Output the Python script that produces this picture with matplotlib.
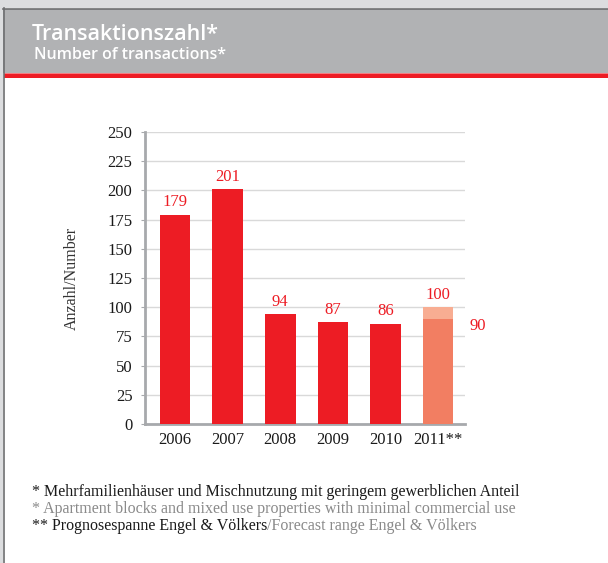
import matplotlib.pyplot as plt
import numpy as np

# chart data
years = ["2006", "2007", "2008", "2009", "2010", "2011**"]
transactions = [179, 201, 94, 87, 86, 90]
forecast_high = 100   # upper end of the 2011 forecast range
yticks = [0, 25, 50, 75, 100, 125, 150, 175, 200, 225, 250]

RED = "#ed1c24"
SALMON = "#f27e62"
LIGHT_SALMON = "#f8ad92"
W, H = 608, 563

fig = plt.figure(figsize=(W / 100, H / 100), dpi=100)
fig.patch.set_facecolor("white")

# page frame and header band, in pixel coords
bg = fig.add_axes([0, 0, 1, 1])
bg.set_xlim(0, W)
bg.set_ylim(H, 0)
bg.axis("off")
bg.add_patch(plt.Rectangle((0, 0), W, 8, color="#dcdddf", lw=0))
bg.add_patch(plt.Rectangle((0, 0), 3, H, color="#dcdddf", lw=0))
bg.add_patch(plt.Rectangle((3, 9), W, 64, color="#b1b2b4", lw=0))
bg.plot([3, W], [8.5, 8.5], color="#6d6e70", lw=1.2)
bg.plot([3.5, 3.5], [8, H], color="#6d6e70", lw=1.2)
bg.add_patch(plt.Rectangle((4, 72.5), W, 1.2, color="#f47c80", lw=0))
bg.add_patch(plt.Rectangle((4, 73.5), W, 4.5, color="#ed1c24", lw=0))
bg.text(32, 34, "Transaktionszahl*", color="white", fontsize=15.5,
        family="Open Sans", weight="semibold", va="center", ha="left")
bg.text(34, 55, "Number of transactions*", color="white", fontsize=11.5,
        family="Open Sans", weight="semibold", va="center", ha="left")

# footnotes
serif = "Liberation Serif"
fs = 11.5
bg.text(32, 492, "* Mehrfamilienhäuser und Mischnutzung mit geringem gewerblichen Anteil",
        fontsize=fs, family=serif, color="#1a1a1a", va="center")
bg.text(32, 509, "* Apartment blocks and mixed use properties with minimal commercial use",
        fontsize=fs, family=serif, color="#8a8a8a", va="center")
t = bg.text(32, 526, "** Prognosespanne Engel & Völkers", fontsize=fs,
            family=serif, color="#1a1a1a", va="center")
bg.annotate("/Forecast range Engel & Völkers", xy=(1, 0.5), xycoords=t,
            fontsize=fs, family=serif, color="#8a8a8a", va="center", ha="left")

# main chart
ax = fig.add_axes([145 / W, 1 - 424 / H, (465 - 145) / W, (424 - 132) / H])
x = np.arange(len(years))
bw = 0.58
colors = [RED] * (len(years) - 1) + [SALMON]
ax.bar(x, transactions, width=bw, color=colors, zorder=3)
ax.bar(x[-1], forecast_high - transactions[-1], bottom=transactions[-1],
       width=bw, color=LIGHT_SALMON, zorder=3)

for xi, v in zip(x[:-1], transactions[:-1]):
    ax.text(xi, v + 4, str(v), ha="center", va="bottom", color=RED,
            fontsize=12, family=serif)
ax.text(x[-1], forecast_high + 4, str(forecast_high), ha="center", va="bottom",
        color=RED, fontsize=12, family=serif)
ax.text(x[-1] + bw / 2 + 0.31, transactions[-1] + 1, str(transactions[-1]),
        ha="left", va="top", color=RED, fontsize=12, family=serif)

ax.set_xlim(-0.57, len(years) - 0.49)
ax.set_ylim(0, 250)
ax.set_yticks(yticks)
ax.set_xticks(x)
ax.set_xticklabels(years)
ax.grid(axis="y", color="#d9d9d9", lw=1, zorder=0)
for s in ["top", "right"]:
    ax.spines[s].set_visible(False)
ax.spines["left"].set_color("#a7a9ac")
ax.spines["left"].set_linewidth(2)
ax.spines["bottom"].set_color("#a7a9ac")
ax.spines["bottom"].set_linewidth(2)
ax.tick_params(axis="y", length=3, color="#a7a9ac", labelsize=12, pad=6)
ax.tick_params(axis="x", length=0, labelsize=12, pad=6)
for lab in ax.get_xticklabels() + ax.get_yticklabels():
    lab.set_family(serif)
    lab.set_color("#1a1a1a")
ax.set_ylabel("Anzahl/Number", family=serif, fontsize=11.5, color="#333333",
              labelpad=20)

fig.savefig("out.png", dpi=100, facecolor="white")
